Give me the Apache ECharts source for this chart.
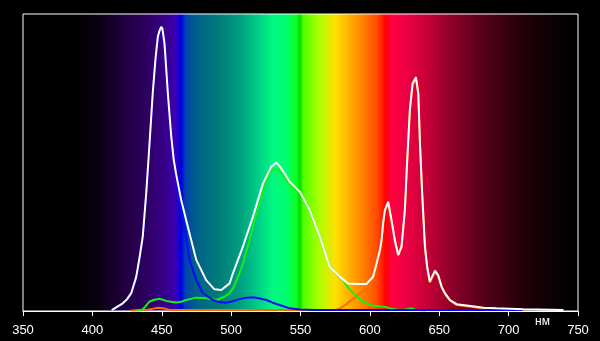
<!DOCTYPE html>
<html>
<head>
<meta charset="utf-8">
<script src="https://cdn.jsdelivr.net/npm/echarts@6/dist/echarts.min.js"></script>
<style>
html,body{margin:0;padding:0;background:#000;}
#c{width:600px;height:341px;}
</style>
</head>
<body>
<div id="c"></div>
<script>
// Wavelength axis ticks (nm)
var xTicks = [350, 400, 450, 500, 550, 600, 650, 700, 750];
var unitLabel = 'нм';

// White (total spectrum)
var whiteNm  = [414,414.7,418,421.9,425,428,431.6,434,436.3,438.8,441.2,443.5,445.5,447.2,448.5,449.6,450.5,452,454.4,456.8,458.6,460.4,464,468.8,474.9,482,488,492.9,498.9,501.3,508.5,515.7,523,529,532.6,536.2,542.2,549.4,556.6,563.9,571,578.3,584.3,590.3,597.5,602.3,604.8,607.2,608.4,609.5,610.8,613.2,615.6,618,620.4,622.8,625.2,626.9,628.8,630.8,633.2,634.9,636.1,637.7,639.7,641.3,643.2,646.9,649.2,651.7,654.1,657.7,662.5,672.6,682,691.4,710.6,739.5];
var whiteVal = [0.003,0.009,0.015,0.026,0.04,0.06,0.115,0.18,0.25,0.396,0.565,0.733,0.85,0.924,0.945,0.957,0.95,0.9,0.733,0.59,0.51,0.46,0.374,0.284,0.172,0.104,0.073,0.071,0.093,0.127,0.217,0.317,0.43,0.486,0.5,0.48,0.435,0.402,0.34,0.25,0.149,0.115,0.093,0.091,0.091,0.115,0.16,0.205,0.239,0.295,0.34,0.368,0.306,0.239,0.189,0.217,0.34,0.508,0.677,0.767,0.787,0.733,0.565,0.396,0.217,0.149,0.099,0.136,0.121,0.082,0.06,0.037,0.023,0.017,0.011,0.009,0.006,0.003];

// Blue channel
var blueNm  = [414,418,421.9,425,428,431.6,434,436.3,438.8,441.2,443.5,445.5,447.2,448.5,449.6,450.5,452,454.4,456.8,458.6,460.4,463,466.4,470,474.9,479.6,486.8,491,496.5,501,506,511,515.7,520,525.4,530,535,542.2,549.4,560,710];
var blueVal = [0.003,0.012,0.024,0.038,0.058,0.11,0.175,0.245,0.39,0.56,0.728,0.845,0.918,0.94,0.95,0.944,0.895,0.725,0.58,0.5,0.44,0.35,0.284,0.172,0.104,0.06,0.037,0.03,0.028,0.033,0.04,0.045,0.046,0.043,0.037,0.028,0.02,0.009,0.005,0.003,0.003];

// Green channel
var greenNm  = [432,436.3,439,441,444,448.4,453.2,460.4,464,467.6,474.9,482,489.3,495.3,498.9,501.3,506,508.5,513.3,516,520.5,524,527.7,530.5,533.7,536.5,539.8,543,547,549.4,556.6,563.9,571,573.5,577,580.7,584,588,595,602.3,608,612,614,620,625,630,633,640];
var greenVal = [0.002,0.005,0.02,0.031,0.037,0.041,0.034,0.029,0.031,0.037,0.045,0.043,0.037,0.048,0.06,0.076,0.127,0.16,0.239,0.29,0.362,0.42,0.464,0.476,0.477,0.46,0.441,0.42,0.407,0.398,0.338,0.248,0.15,0.138,0.118,0.104,0.08,0.06,0.031,0.018,0.015,0.013,0.009,0.004,0.004,0.009,0.004,0.002];

// Red channel
var redNm  = [428,440,444,447,451,455,460,575,578.3,583,586,590,595.6,600,602.3,604.8,607.2,608.4,609.5,610.8,613.2,615.6,618,620.4,622.8,625.2,626.9,628.8,630.8,633.2,634.9,636.1,637.7,639.7,641.3,643.2,646.9,649.2,651.7,654.1,657.7,662.5,672.6,682,690];
var redVal = [0.002,0.004,0.008,0.011,0.009,0.004,0.003,0.003,0.009,0.022,0.035,0.048,0.07,0.085,0.11,0.155,0.2,0.235,0.29,0.335,0.362,0.302,0.235,0.186,0.214,0.336,0.504,0.672,0.762,0.782,0.728,0.56,0.39,0.213,0.145,0.096,0.132,0.117,0.079,0.057,0.035,0.02,0.014,0.008,0.003];

function pairs(xs, ys){ return xs.map(function(x,i){ return [x, ys[i]]; }); }

var xMin = xTicks[0], xMax = xTicks[xTicks.length-1];
function off(nm){ return (nm - xMin) / (xMax - xMin); }
var specStops = [
  [350,'#000000'],[390,'#000000'],[405,'#0a0012'],[420,'#1e0038'],[440,'#2e0062'],
  [455,'#3a0094'],[460,'#3a00b4'],[463,'#1000d8'],[464.5,'#0000e8'],[467,'#0040b0'],
  [475,'#00608a'],[490,'#007a78'],[505,'#009a80'],[520,'#00d088'],[530,'#00f880'],
  [540,'#00ff70'],[547,'#10ff20'],[549.5,'#00dc00'],[552,'#50ff00'],[563,'#a8ff00'],
  [575,'#ffe000'],[585,'#ffb000'],[595,'#ff8000'],[605,'#ff4a00'],[610,'#ff1000'],
  [611,'#ff0000'],[616,'#ff0040'],[625,'#f00045'],[640,'#c80038'],[660,'#8a0028'],
  [680,'#58001a'],[700,'#32000e'],[720,'#160006'],[740,'#040001'],[750,'#000000']
];
var grad = {type:'linear', x:0, y:0, x2:1, y2:0, global:false,
  colorStops: specStops.map(function(s){ return {offset: off(s[0]), color: s[1]}; })};

var chart = echarts.init(document.getElementById('c'), null, {renderer:'canvas'});
var lineCommon = {type:'line', showSymbol:false, symbol:'none', smooth:false, animation:false, z:2};
chart.setOption({
  backgroundColor:'#000000',
  animation:false,
  grid:{left:23, right:22, top:14, bottom:30, show:true, backgroundColor:grad, borderColor:'#ffffff', borderWidth:1},
  xAxis:{type:'value', min:xMin, max:xMax, interval:50,
    axisLine:{show:true, lineStyle:{color:'#ffffff', width:1}},
    axisTick:{show:true, length:5, lineStyle:{color:'#ffffff'}},
    axisLabel:{color:'#ffffff', fontSize:13, fontFamily:'Liberation Sans, Arial, sans-serif', margin:13},
    splitLine:{show:false}},
  yAxis:{type:'value', min:0, max:1, show:false, splitLine:{show:false}},
  graphic:[{type:'text', left:535, top:316, style:{text:unitLabel, fill:'#ffffff', font:'12px "Liberation Sans", Arial, sans-serif'}}],
  series:[
    Object.assign({}, lineCommon, {name:'red', data:pairs(redNm, redVal), lineStyle:{color:'#ff6a00', width:2}}),
    Object.assign({}, lineCommon, {name:'green', data:pairs(greenNm, greenVal), lineStyle:{color:'#14f014', width:2}}),
    Object.assign({}, lineCommon, {name:'blue', data:pairs(blueNm, blueVal), lineStyle:{color:'#0a0aff', width:2}}),
    Object.assign({}, lineCommon, {name:'white', data:pairs(whiteNm, whiteVal), lineStyle:{color:'#ffffff', width:2}})
  ]
});
</script>
</body>
</html>
